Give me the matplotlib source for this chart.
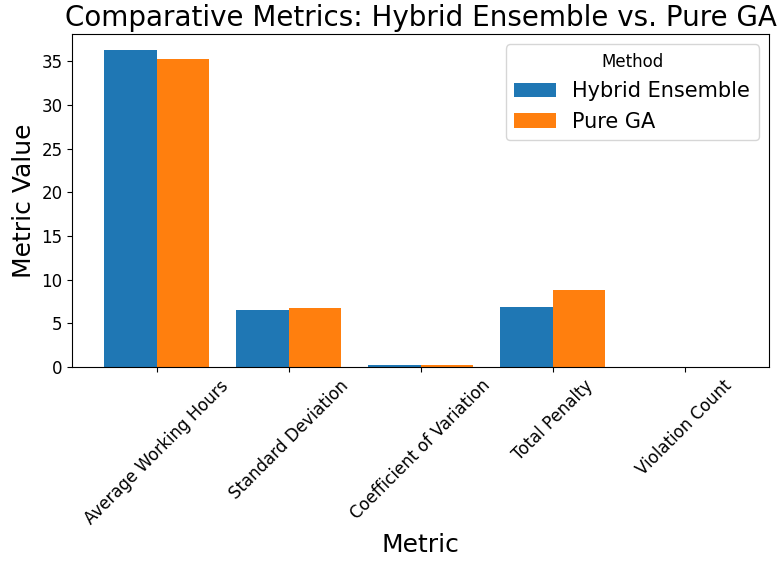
import matplotlib
matplotlib.use("Agg")
import matplotlib.pyplot as plt
import numpy as np

metrics = ["Average Working Hours", "Standard Deviation", "Coefficient of Variation",
           "Total Penalty", "Violation Count"]
hybrid = [36.3, 6.5, 0.18, 6.85, 0.0]
pure_ga = [35.3, 6.8, 0.19, 8.85, 0.0]
series_names = ["Hybrid Ensemble", "Pure GA"]

fig = plt.figure(figsize=(7.84, 5.68), dpi=100)
ax = fig.add_axes([0.092, 0.354, 0.889, 0.586])

x = np.arange(len(metrics))
w = 0.4
ax.bar(x - w / 2, hybrid, w, color="#1f77b4", label=series_names[0])
ax.bar(x + w / 2, pure_ga, w, color="#ff7f0e", label=series_names[1])

ax.set_xticks(x)
ax.set_xticklabels(metrics, rotation=45, ha="center", fontsize=12)
ax.tick_params(axis="y", labelsize=12)
ax.set_xlabel("Metric", fontsize=18)
ax.set_ylabel("Metric Value", fontsize=18)
ax.set_title("Comparative Metrics: Hybrid Ensemble vs. Pure GA", fontsize=20)
ax.legend(title="Method", fontsize=15, title_fontsize=12, loc="upper right")

fig.savefig("out.png", dpi=100)
